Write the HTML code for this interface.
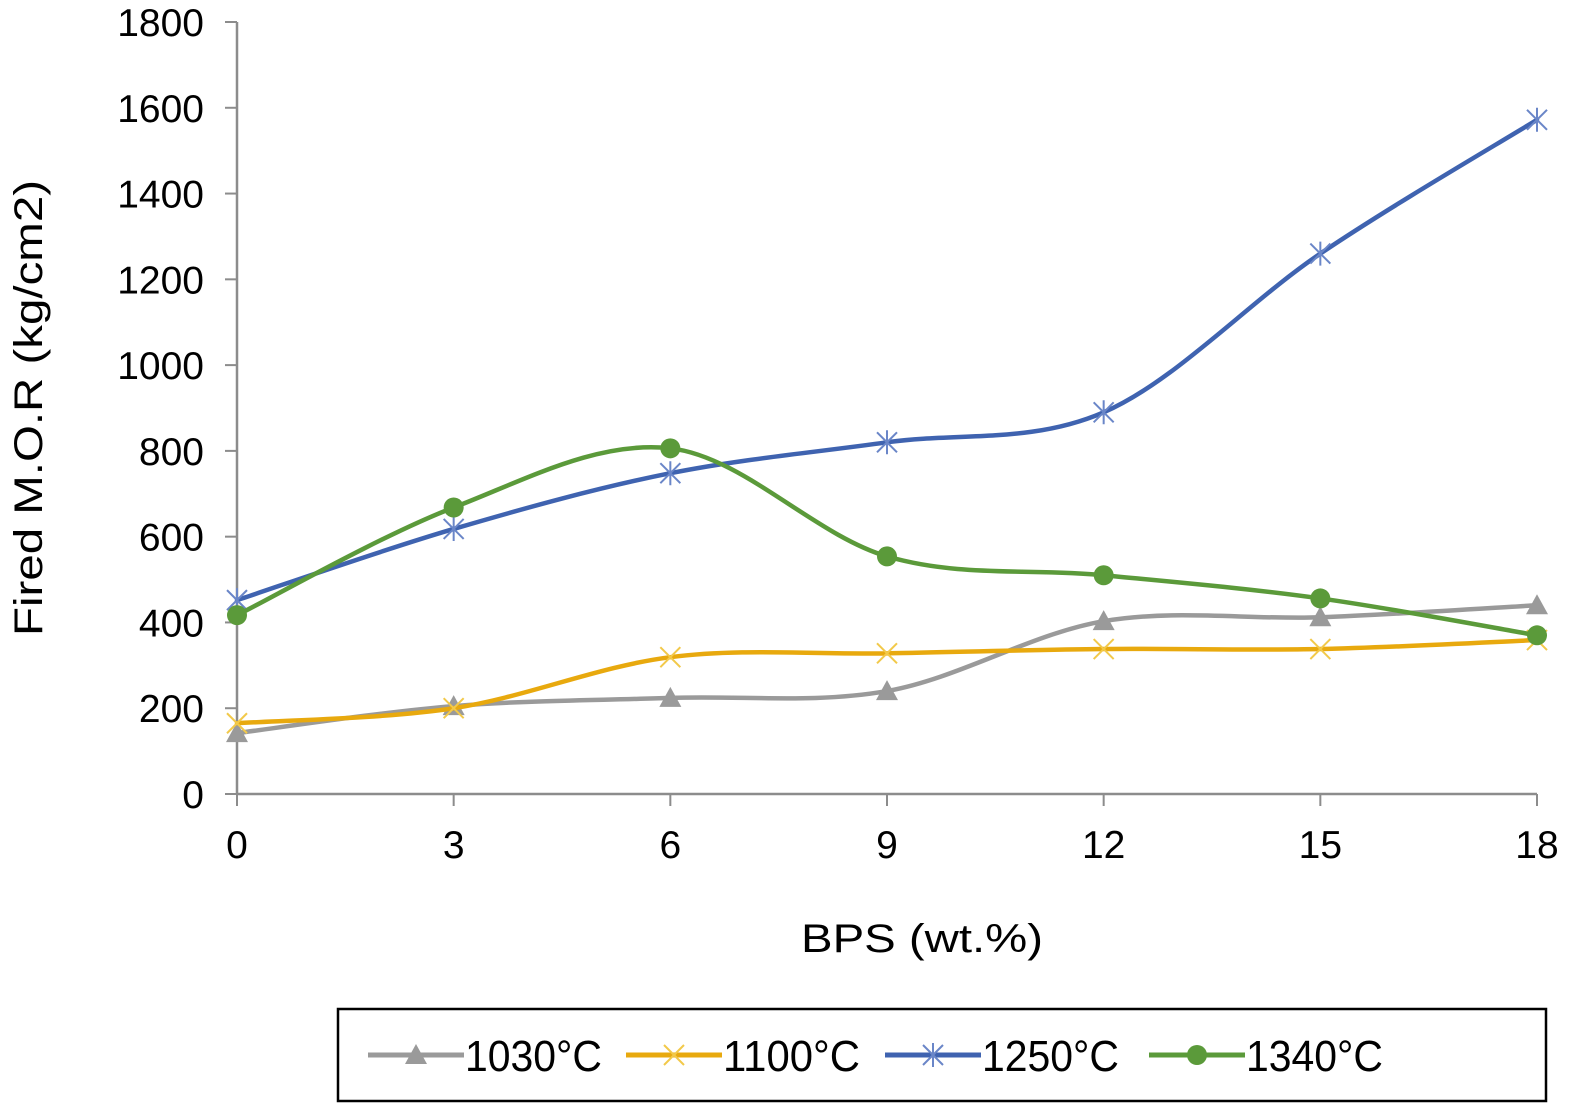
<!DOCTYPE html>
<html><head><meta charset="utf-8"><style>
html,body{margin:0;padding:0;background:#fff;}
svg{display:block;font-family:"Liberation Sans",sans-serif;}
</style></head><body>
<svg id="chart" width="1588" height="1117" viewBox="0 0 1588 1117" xmlns="http://www.w3.org/2000/svg">
<g id="axes"></g>
<g id="series"></g>
<text transform="translate(42,408) rotate(-90)" text-anchor="middle" font-size="40" textLength="456" lengthAdjust="spacingAndGlyphs">Fired M.O.R (kg/cm2)</text>
<text x="922" y="952" text-anchor="middle" font-size="40" textLength="242" lengthAdjust="spacingAndGlyphs">BPS (wt.%)</text>
<rect x="338" y="1009" width="1208" height="92" fill="none" stroke="#000" stroke-width="2.5"/>
<g id="legend"></g>
</svg>
<script>
const categories = [0, 3, 6, 9, 12, 15, 18];
const yTicks = [0, 200, 400, 600, 800, 1000, 1200, 1400, 1600, 1800];
const seriesNames = ["1030°C", "1100°C", "1250°C", "1340°C"];
const s1030 = [142, 205, 224, 240, 403, 412, 440];
const s1100 = [165, 200, 319, 328, 338, 338, 359];
const s1250 = [452, 618, 748, 820, 890, 1260, 1572];
const s1340 = [417, 668, 806, 554, 510, 456, 370];

const NS = "http://www.w3.org/2000/svg";
const X0 = 237, X1 = 1537, Y0 = 794, Y1 = 22;
const xs = v => X0 + (v - 0) / 18 * (X1 - X0);
const ys = v => Y0 - v / 1800 * (Y0 - Y1);
function mk(tag, attrs, parent) {
  const e = document.createElementNS(NS, tag);
  for (const k in attrs) e.setAttribute(k, attrs[k]);
  parent.appendChild(e);
  return e;
}
const axes = document.getElementById('axes');
let yl = mk('line', {x1: X0, y1: Y0, x2: X0, y2: Y1, stroke: '#8c8c8c', 'stroke-width': 2.5}, axes);


let xl = mk('line', {x1: X0, y1: Y0, x2: X1, y2: Y0, stroke: '#8c8c8c', 'stroke-width': 2.5}, axes);


yTicks.forEach(t => {
  const y = ys(t);
  const tk = mk('line', {x1: X0 - 12, y1: y, x2: X0, y2: y, stroke: '#8c8c8c', 'stroke-width': 2}, axes);
  
  
  const tx = mk('text', {x: 204, y: y + 14, 'text-anchor': 'end', 'font-size': 39}, axes);
  tx.textContent = t;
  
  
});
categories.forEach(c => {
  const x = xs(c);
  const tk = mk('line', {x1: x, y1: Y0, x2: x, y2: Y0 + 12, stroke: '#8c8c8c', 'stroke-width': 2}, axes);
  
  
  const tx = mk('text', {x: x, y: 858, 'text-anchor': 'middle', 'font-size': 39}, axes);
  tx.textContent = c;
  
  
});

const colors = ['#9a9a9a', '#e8a90e', '#3f63b0', '#5b9a3a'];
const data = [s1030, s1100, s1250, s1340];
const markerTypes = ['tri', 'x', 'star', 'circle'];

function marker(type, x, y, color, parent) {
  const g = mk('g', {}, parent);
  if (type === 'tri') {
    mk('polygon', {points: `${x},${y-11} ${x+11},${y+9} ${x-11},${y+9}`, fill: color}, g);
  } else if (type === 'x') {
    mk('path', {d: `M${x-10},${y-10}L${x+10},${y+10}M${x-10},${y+10}L${x+10},${y-10}`, stroke: '#f2c94a', 'stroke-width': 2, fill: 'none'}, g);
  } else if (type === 'star') {
    mk('path', {d: `M${x-10},${y-10}L${x+10},${y+10}M${x-10},${y+10}L${x+10},${y-10}M${x},${y-12}L${x},${y+12}`, stroke: '#6a86c8', 'stroke-width': 2, fill: 'none'}, g);
  } else {
    mk('circle', {cx: x, cy: y, r: 10, fill: color}, g);
  }
  return g;
}
function smoothPath(pts) {
  let d = `M${pts[0][0]},${pts[0][1]}`;
  for (let i = 0; i < pts.length - 1; i++) {
    const p0 = pts[i - 1] || pts[i], p1 = pts[i], p2 = pts[i + 1], p3 = pts[i + 2] || pts[i + 1];
    const c1x = p1[0] + (p2[0] - p0[0]) / 6, c1y = p1[1] + (p2[1] - p0[1]) / 6;
    const c2x = p2[0] - (p3[0] - p1[0]) / 6, c2y = p2[1] - (p3[1] - p1[1]) / 6;
    d += ` C${c1x},${c1y} ${c2x},${c2y} ${p2[0]},${p2[1]}`;
  }
  return d;
}
const sg = document.getElementById('series');
data.forEach((vals, si) => {
  const g = mk('g', {}, sg);
  
  
  const pts = vals.map((v, i) => [xs(categories[i]), ys(v)]);
  const p = mk('path', {d: smoothPath(pts), fill: 'none', stroke: colors[si], 'stroke-width': 4.5, 'stroke-linecap': 'round'}, g);
  
  
  pts.forEach(pt => {
    const m = marker(markerTypes[si], pt[0], pt[1], colors[si], g);
    
    
  });
});

const lg = document.getElementById('legend');
const legX = [368, 626, 885, 1149];
seriesNames.forEach((n, i) => {
  const g = mk('g', {}, lg);
  
  
  const x = legX[i], y = 1055;
  mk('line', {x1: x, y1: y, x2: x + 96, y2: y, stroke: colors[i], 'stroke-width': 5}, g);
  marker(markerTypes[i], x + 48, y, colors[i], g);
  const t = mk('text', {x: x + 97, y: y + 16, 'font-size': 44, textLength: 137, lengthAdjust: 'spacingAndGlyphs'}, g);
  t.textContent = n;
});
</script>
</body></html>
